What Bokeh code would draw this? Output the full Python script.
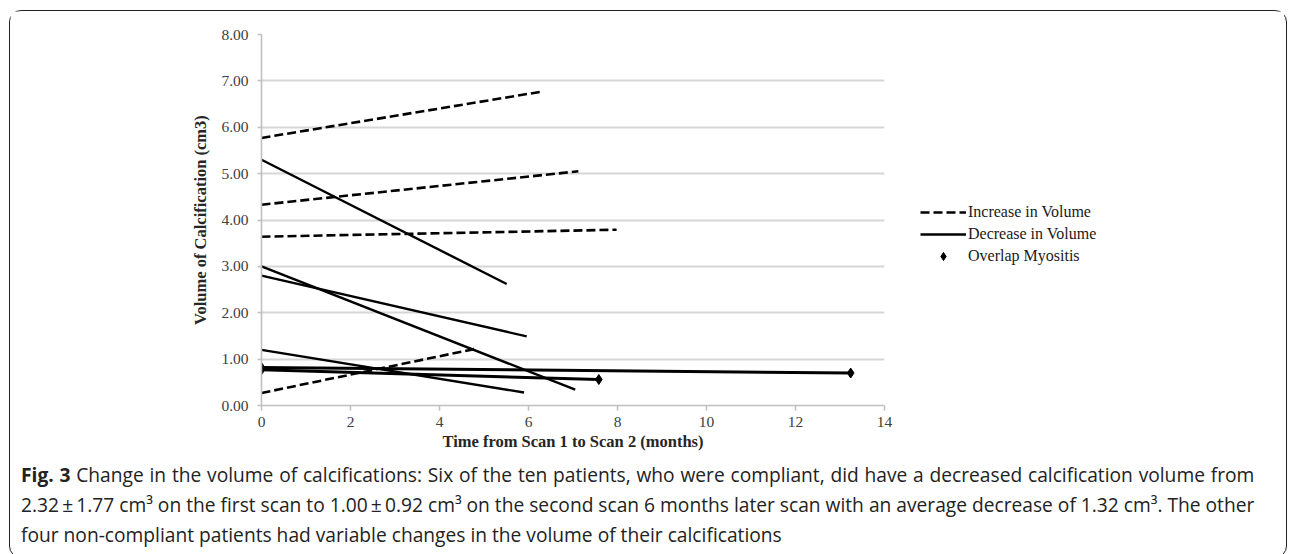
from bokeh.plotting import figure
from bokeh.models import (Range1d, NumeralTickFormatter, FixedTicker, Legend, LegendItem,
                          ColumnDataSource, Div)
from bokeh.layouts import column, row
from bokeh.embed import file_html
from bokeh.resources import INLINE

# ---- data ----
inc_t_end = [6.31, 7.12, 7.98, 4.80]
inc_v_start = [5.77, 4.33, 3.64, 0.27]
inc_v_end = [6.77, 5.05, 3.79, 1.22]

dec_t_end = [5.51, 7.05, 5.96, 5.90]
dec_v_start = [5.30, 3.00, 2.80, 1.20]
dec_v_end = [2.62, 0.34, 1.49, 0.28]

myo_t_end = [13.24, 7.58]
myo_v_start = [0.82, 0.77]
myo_v_end = [0.70, 0.56]

y_ticks = [0, 1, 2, 3, 4, 5, 6, 7, 8]
x_ticks = [0, 2, 4, 6, 8, 10, 12, 14]

legend_labels = ["Increase in Volume", "Decrease in Volume", "Overlap Myositis"]
x_title = "Time from Scan 1 to Scan 2 (months)"
y_title = "Volume of Calcification (cm3)"
caption_bold = "Fig. 3"
caption_lines = [
    "Change in the volume of calcifications: Six of the ten patients, who were compliant, did have a decreased calcification volume from",
    "2.32\u2009\u00b1\u20091.77 cm\u00b3 on the first scan to 1.00\u2009\u00b1\u20090.92 cm\u00b3 on the second scan 6 months later scan with an average decrease of 1.32 cm\u00b3. The other",
    "four non-compliant patients had variable changes in the volume of their calcifications",
]

SERIF = "Liberation Serif"

BOX_W = 1278
CH_W, CH_H = 910, 444
p = figure(width=CH_W, height=CH_H, output_backend="svg", toolbar_location=None,
           x_range=Range1d(0, 14), y_range=Range1d(0, 8),
           min_border_left=251, min_border_right=36, min_border_top=23, min_border_bottom=50)
p.background_fill_color = "white"
p.border_fill_color = "white"
p.outline_line_color = None
p.xgrid.grid_line_color = None
p.ygrid.grid_line_color = "#d6d6d6"
p.ygrid.grid_line_width = 1.8

for ax in (p.xaxis[0], p.yaxis[0]):
    ax.axis_line_color = "#c0c0c0"
    ax.axis_line_width = 1.6
    ax.major_tick_line_color = "#c0c0c0"
    ax.major_tick_line_width = 1.5
    ax.major_tick_in = 0
    ax.major_tick_out = 5
    ax.minor_tick_line_color = None
    ax.major_label_text_font = SERIF
    ax.major_label_text_font_size = "15.5px"
    ax.major_label_text_color = "#404040"
    ax.axis_label_text_font = SERIF
    ax.axis_label_text_font_style = "bold"
    ax.axis_label_text_font_size = "16.5px"
    ax.axis_label_text_color = "#262626"

p.xaxis.ticker = FixedTicker(ticks=x_ticks)
p.yaxis.ticker = FixedTicker(ticks=y_ticks)
p.yaxis.formatter = NumeralTickFormatter(format="0.00")
p.xaxis.axis_label = x_title
p.yaxis.axis_label = y_title
p.yaxis.major_tick_out = 4
p.xaxis.major_label_standoff = 6
p.yaxis.major_label_standoff = 9
p.xaxis.axis_label_standoff = 2
p.yaxis.axis_label_standoff = 8

# ---- series ----
inc_src = ColumnDataSource(dict(xs=[[0, t] for t in inc_t_end],
                                ys=[[a, b] for a, b in zip(inc_v_start, inc_v_end)]))
dec_src = ColumnDataSource(dict(xs=[[0, t] for t in dec_t_end],
                                ys=[[a, b] for a, b in zip(dec_v_start, dec_v_end)]))
myo_src = ColumnDataSource(dict(xs=[[0, t] for t in myo_t_end],
                                ys=[[a, b] for a, b in zip(myo_v_start, myo_v_end)]))
myo_pts = ColumnDataSource(dict(x=[0] * len(myo_t_end) + list(myo_t_end),
                                y=list(myo_v_start) + list(myo_v_end)))

inc_style = dict(line_color="black", line_width=2.6, line_dash="9 4")
dec_style = dict(line_color="black", line_width=2.4)
myo_style = dict(marker="diamond", size=10, fill_color="black", line_color="black")

p.multi_line("xs", "ys", source=inc_src, **inc_style)
p.multi_line("xs", "ys", source=dec_src, **dec_style)
p.multi_line("xs", "ys", source=myo_src, line_color="black", line_width=3.0)
p.scatter("x", "y", source=myo_pts, **myo_style)

# ---- legend (key panel to the right of the chart; key glyphs sit off-range) ----
LG_W = BOX_W - 4 - CH_W
lg = figure(width=LG_W, height=CH_H, output_backend="svg", toolbar_location=None,
            x_range=Range1d(0, 1), y_range=Range1d(0, 1),
            min_border_left=0, min_border_right=0, min_border_top=0, min_border_bottom=0)
lg.axis.visible = False
lg.grid.visible = False
lg.outline_line_color = None
lg.background_fill_color = "white"
lg.border_fill_color = "white"
k_inc = lg.multi_line(xs=[[-5, -4]], ys=[[-5, -4]], **inc_style)
k_dec = lg.multi_line(xs=[[-5, -4]], ys=[[-5, -4]], **dec_style)
k_myo = lg.scatter(x=[-5], y=[-5], **myo_style)

legend = Legend(items=[LegendItem(label=legend_labels[0], renderers=[k_inc]),
                       LegendItem(label=legend_labels[1], renderers=[k_dec]),
                       LegendItem(label=legend_labels[2], renderers=[k_myo])],
                location=(0, 139))
legend.border_line_color = None
legend.background_fill_alpha = 0
legend.padding = 0
legend.margin = 0
legend.spacing = 2
legend.glyph_width = 46
legend.glyph_height = 20
legend.label_height = 20
legend.label_standoff = 2
legend.label_text_font = SERIF
legend.label_text_font_size = "16px"
legend.label_text_color = "#1a1a1a"
lg.add_layout(legend, "center")

# ---- caption ----
just = "text-align:justify;text-align-last:justify;white-space:nowrap;"
cap_html = ('<div style="%s"><b>%s</b> %s</div><div style="%s">%s</div>'
            '<div style="white-space:nowrap;">%s</div>'
            % (just, caption_bold, caption_lines[0], just, caption_lines[1], caption_lines[2]))
caption = Div(text=cap_html, width=BOX_W - 4, height=92,
              styles={"font-family": "'Open Sans', sans-serif", "font-size": "19.2px",
                      "line-height": "30px", "color": "#222222",
                      "padding-left": "6px", "padding-right": "12px",
                      "box-sizing": "border-box"})

layout = column(row(p, lg), caption, width=BOX_W, margin=(10, 0, 0, 9),
                styles={"border": "1.6px solid #222222", "border-radius": "12px",
                        "background": "white"})

open("out.html", "w").write(file_html(layout, INLINE))
